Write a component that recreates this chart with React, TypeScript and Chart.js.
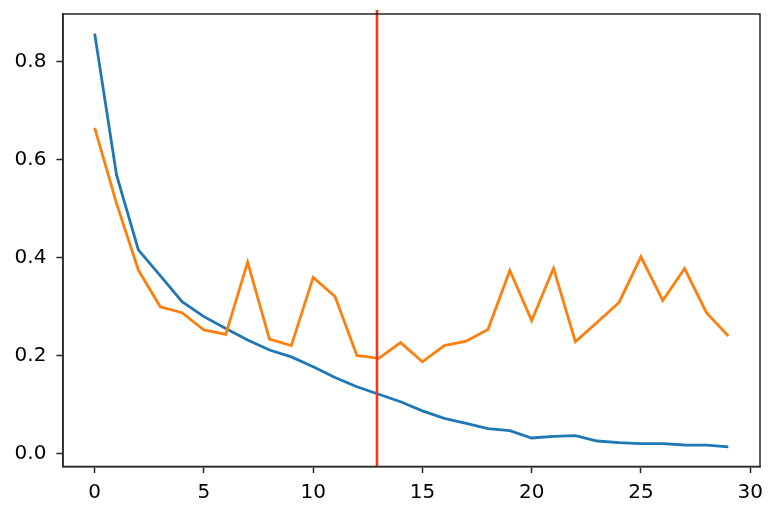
import React, { useEffect, useRef } from "react";
import { Chart, registerables } from "chart.js";

Chart.register(...registerables);

const epochs = Array.from({ length: 30 }, (_, i) => i);
const blueValues = [
  0.857, 0.569, 0.416, 0.3635, 0.3105, 0.28, 0.256, 0.2324, 0.212, 0.198,
  0.178, 0.156, 0.137, 0.1217, 0.1066, 0.088, 0.0727, 0.0625, 0.0516, 0.0476,
  0.0326, 0.036, 0.0374, 0.0265, 0.023, 0.021, 0.021, 0.0183, 0.018, 0.0143,
];
const orangeValues = [
  0.665, 0.511, 0.375, 0.3, 0.288, 0.2528, 0.244, 0.391, 0.234, 0.221,
  0.36, 0.321, 0.201, 0.195, 0.227, 0.188, 0.221, 0.23, 0.254, 0.374,
  0.272, 0.3785, 0.229, 0.2685, 0.309, 0.402, 0.313, 0.378, 0.288, 0.2406,
];
const markerEpoch = 12.92;
const markerYRange = [-0.0255, 0.905];
const xTicks = [0, 5, 10, 15, 20, 25, 30];
const yTicks = [0, 0.2, 0.4, 0.6, 0.8];

const FONT = "'DejaVu Sans', sans-serif";
const AXIS_COLOR = "#262626";

export default function App() {
  const canvasRef = useRef<HTMLCanvasElement | null>(null);

  useEffect(() => {
    document.body.style.margin = "0";
    const canvas = canvasRef.current;
    if (!canvas) return;

    const framePlugin = {
      id: "frame",
      afterDatasetsDraw(chart: any) {
        const { ctx, chartArea } = chart;
        ctx.save();
        ctx.strokeStyle = AXIS_COLOR;
        ctx.lineWidth = 1.5;
        ctx.strokeRect(
          chartArea.left,
          chartArea.top,
          chartArea.right - chartArea.left,
          chartArea.bottom - chartArea.top
        );
        ctx.restore();
      },
    };

    const chart = new Chart(canvas, {
      type: "line",
      data: {
        datasets: [
          {
            label: "marker",
            data: markerYRange.map((y) => ({ x: markerEpoch, y })),
            borderColor: "#f4361c",
            borderWidth: 2.6,
            pointRadius: 0,
            clip: false as any,
            order: 1,
          },
          {
            label: "orange",
            data: epochs.map((x, i) => ({ x, y: orangeValues[i] })),
            borderColor: "#ff7f0e",
            borderWidth: 2.8,
            pointRadius: 0,
            tension: 0,
            order: 2,
          },
          {
            label: "blue",
            data: epochs.map((x, i) => ({ x, y: blueValues[i] })),
            borderColor: "#1f77b4",
            borderWidth: 2.8,
            pointRadius: 0,
            tension: 0,
            order: 3,
          },
        ],
      },
      options: {
        animation: false,
        responsive: false,
        maintainAspectRatio: false,
        layout: { padding: { top: 14, right: 18, left: 0, bottom: 0 } },
        plugins: {
          legend: { display: false },
          tooltip: { enabled: false },
        },
        scales: {
          x: {
            type: "linear",
            min: -1.45,
            max: 30.45,
            afterBuildTicks: (scale: any) => {
              scale.ticks = xTicks.map((v) => ({ value: v }));
            },
            afterFit: (scale: any) => {
              scale.height = 50.5;
              scale.paddingLeft = 0;
              scale.paddingRight = 0;
            },
            grid: {
              drawOnChartArea: false,
              drawTicks: true,
              tickLength: 6.6,
              tickWidth: 1.5,
              tickColor: AXIS_COLOR,
            },
            border: { display: true, color: AXIS_COLOR, width: 1.5 },
            ticks: {
              color: "#000",
              font: { family: FONT, size: 20 },
              padding: 8,
              maxRotation: 0,
              autoSkip: false,
              callback: (v: any) => String(v),
            },
          },
          y: {
            type: "linear",
            min: -0.0255,
            max: 0.897,
            afterBuildTicks: (scale: any) => {
              scale.ticks = yTicks.map((v) => ({ value: v }));
            },
            afterFit: (scale: any) => {
              scale.width = 63;
              scale.paddingTop = 0;
              scale.paddingBottom = 0;
            },
            grid: {
              drawOnChartArea: false,
              drawTicks: true,
              tickLength: 6.6,
              tickWidth: 1.5,
              tickColor: AXIS_COLOR,
            },
            border: { display: true, color: AXIS_COLOR, width: 1.5 },
            ticks: {
              color: "#000",
              font: { family: FONT, size: 20 },
              padding: 10,
              autoSkip: false,
              callback: (v: any) => Number(v).toFixed(1),
            },
          },
        },
      },
      plugins: [framePlugin],
    } as any);

    return () => chart.destroy();
  }, []);

  return (
    <div style={{ position: "absolute", left: 0, top: 0, width: 778, height: 517, background: "#fff" }}>
      <canvas ref={canvasRef} width={778} height={517} style={{ width: 778, height: 517 }} />
    </div>
  );
}
